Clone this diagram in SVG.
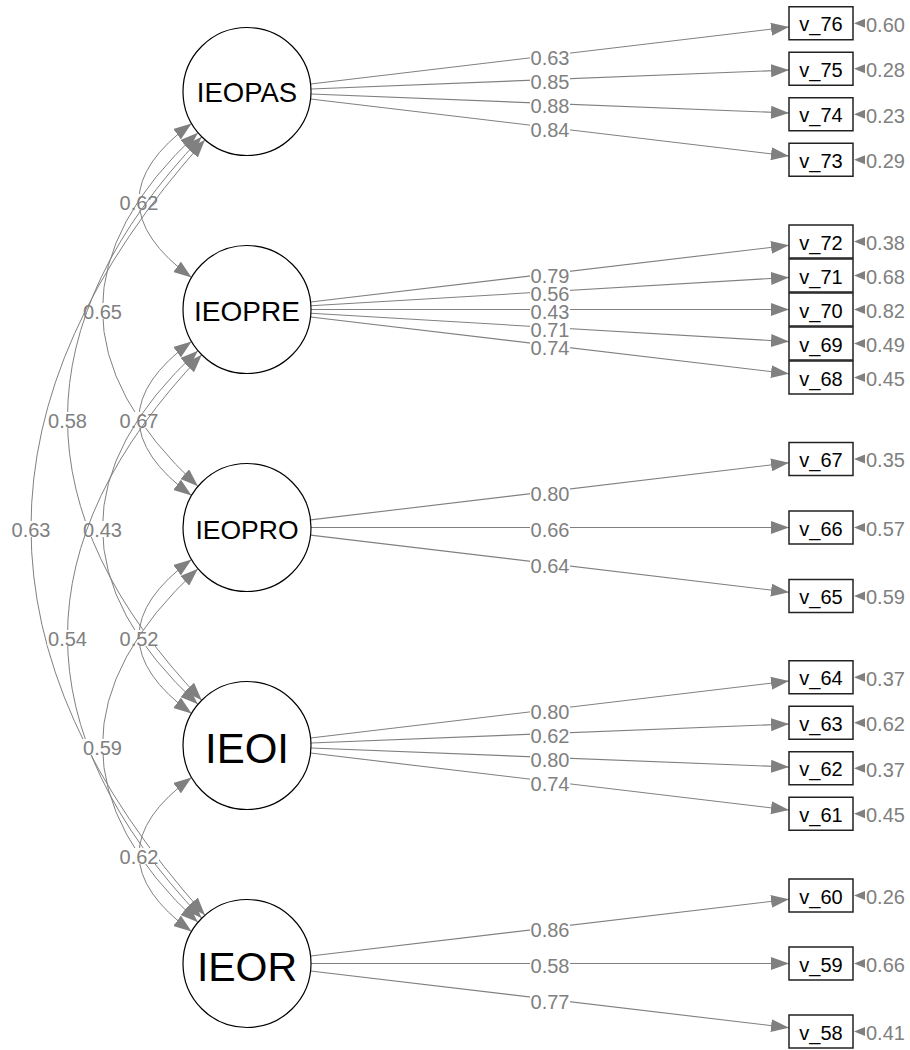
<svg xmlns="http://www.w3.org/2000/svg" width="910" height="1050" viewBox="0 0 910 1050">
<style>
.e{fill:none;stroke:#808080;stroke-width:1.1;marker-end:url(#ah)}
.c{fill:none;stroke:#808080;stroke-width:1;marker-start:url(#ah);marker-end:url(#ah)}
.bg{fill:#fff}
.lb{font-family:"Liberation Sans",Arial,sans-serif;font-size:20px;fill:#808080;text-anchor:middle}
.rl{font-family:"Liberation Sans",Arial,sans-serif;font-size:20px;fill:#808080;text-anchor:start}
.res{fill:#808080}
.lat{fill:#fff;stroke:#000;stroke-width:1.2}
.man{fill:#fff;stroke:#222;stroke-width:1.5}
.lt{font-family:"Liberation Sans",Arial,sans-serif;fill:#000;text-anchor:middle}
.mt{font-family:"Liberation Sans",Arial,sans-serif;font-size:20px;fill:#000;text-anchor:middle}
</style>
<defs>
<marker id="ah" viewBox="0 0 18 13" refX="18" refY="6.5" markerWidth="18" markerHeight="13" markerUnits="userSpaceOnUse" orient="auto-start-reverse"><path d="M0,0 L18,6.5 L0,13 Z" fill="#808080"/></marker>
</defs>
<g id="connectors">
<!-- covariances -->
<path class="c" d="M191.57,123.5 Q86.43,200.5 191.57,277.5"/>
<rect class="bg" x="119" y="194" width="40" height="16"/><text class="lb" x="139" y="209.5">0.62</text>
<path class="c" d="M197.97,132.64 Q7.03,309.5 197.97,486.36"/>
<rect class="bg" x="82.5" y="303" width="40" height="16"/><text class="lb" x="102.5" y="318.5">0.65</text>
<path class="c" d="M201.75,136.75 Q-66.75,418.5 201.75,700.25"/>
<rect class="bg" x="47.5" y="412" width="40" height="16"/><text class="lb" x="67.5" y="427.5">0.58</text>
<path class="c" d="M205.01,139.8 Q-143.01,527.5 205.01,915.2"/>
<rect class="bg" x="11" y="521" width="40" height="16"/><text class="lb" x="31" y="536.5">0.63</text>
<path class="c" d="M191.57,341.5 Q86.43,418.5 191.57,495.5"/>
<rect class="bg" x="119" y="412" width="40" height="16"/><text class="lb" x="139" y="427.5">0.67</text>
<path class="c" d="M197.97,350.64 Q7.03,527.5 197.97,704.36"/>
<rect class="bg" x="82.5" y="521" width="40" height="16"/><text class="lb" x="102.5" y="536.5">0.43</text>
<path class="c" d="M201.75,354.75 Q-66.75,636.5 201.75,918.25"/>
<rect class="bg" x="47.5" y="630" width="40" height="16"/><text class="lb" x="67.5" y="645.5">0.54</text>
<path class="c" d="M191.57,559.5 Q86.43,636.5 191.57,713.5"/>
<rect class="bg" x="119" y="630" width="40" height="16"/><text class="lb" x="139" y="645.5">0.52</text>
<path class="c" d="M197.97,568.64 Q7.03,745.5 197.97,922.36"/>
<rect class="bg" x="82.5" y="739" width="40" height="16"/><text class="lb" x="102.5" y="754.5">0.59</text>
<path class="c" d="M191.57,777.5 Q86.43,854.5 191.57,931.5"/>
<rect class="bg" x="119" y="848" width="40" height="16"/><text class="lb" x="139" y="863.5">0.62</text>
<!-- loadings IEOPAS -->
<path class="e" d="M310.55,83.94 L789,27.05"/>
<path class="e" d="M310.95,88.97 L789,70.02"/>
<path class="e" d="M310.95,94.03 L789,112.98"/>
<path class="e" d="M310.55,99.06 L789,155.95"/>
<rect class="bg" x="530" y="49" width="40" height="16"/><text class="lb" x="550" y="64.5">0.63</text>
<rect class="bg" x="530" y="73" width="40" height="16"/><text class="lb" x="550" y="88.5">0.85</text>
<rect class="bg" x="530" y="97" width="40" height="16"/><text class="lb" x="550" y="112.5">0.88</text>
<rect class="bg" x="530" y="121" width="40" height="16"/><text class="lb" x="550" y="136.5">0.84</text>
<!-- loadings IEOPRE -->
<path class="e" d="M310.55,301.97 L789,245.29"/>
<path class="e" d="M310.89,305.72 L789,277.4"/>
<path class="e" d="M311,309.5 L789,309.5"/>
<path class="e" d="M310.89,313.28 L789,341.6"/>
<path class="e" d="M310.55,317.03 L789,373.71"/>
<rect class="bg" x="530" y="267" width="40" height="16"/><text class="lb" x="550" y="282.5">0.79</text>
<rect class="bg" x="530" y="285" width="40" height="16"/><text class="lb" x="550" y="300.5">0.56</text>
<rect class="bg" x="530" y="303" width="40" height="16"/><text class="lb" x="550" y="318.5">0.43</text>
<rect class="bg" x="530" y="321" width="40" height="16"/><text class="lb" x="550" y="336.5">0.71</text>
<rect class="bg" x="530" y="339" width="40" height="16"/><text class="lb" x="550" y="354.5">0.74</text>
<!-- loadings IEOPRO -->
<path class="e" d="M310.55,519.92 L789,462.82"/>
<path class="e" d="M311,527.5 L789,527.5"/>
<path class="e" d="M310.55,535.08 L789,592.18"/>
<rect class="bg" x="530" y="485" width="40" height="16"/><text class="lb" x="550" y="500.5">0.80</text>
<rect class="bg" x="530" y="521" width="40" height="16"/><text class="lb" x="550" y="536.5">0.66</text>
<rect class="bg" x="530" y="557" width="40" height="16"/><text class="lb" x="550" y="572.5">0.64</text>
<!-- loadings IEOI -->
<path class="e" d="M310.55,737.94 L789,681.05"/>
<path class="e" d="M310.95,742.97 L789,724.02"/>
<path class="e" d="M310.95,748.03 L789,766.98"/>
<path class="e" d="M310.55,753.06 L789,809.95"/>
<rect class="bg" x="530" y="703" width="40" height="16"/><text class="lb" x="550" y="718.5">0.80</text>
<rect class="bg" x="530" y="727" width="40" height="16"/><text class="lb" x="550" y="742.5">0.62</text>
<rect class="bg" x="530" y="751" width="40" height="16"/><text class="lb" x="550" y="766.5">0.80</text>
<rect class="bg" x="530" y="775" width="40" height="16"/><text class="lb" x="550" y="790.5">0.74</text>
<!-- loadings IEOR -->
<path class="e" d="M310.55,955.97 L789,899.29"/>
<path class="e" d="M311,963.5 L789,963.5"/>
<path class="e" d="M310.55,971.03 L789,1027.71"/>
<rect class="bg" x="530" y="921" width="40" height="16"/><text class="lb" x="550" y="936.5">0.86</text>
<rect class="bg" x="530" y="957" width="40" height="16"/><text class="lb" x="550" y="972.5">0.58</text>
<rect class="bg" x="530" y="993" width="40" height="16"/><text class="lb" x="550" y="1008.5">0.77</text>
<!-- residuals -->
<polygon class="res" points="854,23.25 865,18.75 865,27.75"/><text class="rl" x="866" y="31.5">0.60</text>
<polygon class="res" points="854,68.75 865,64.25 865,73.25"/><text class="rl" x="866" y="77">0.28</text>
<polygon class="res" points="854,114.25 865,109.75 865,118.75"/><text class="rl" x="866" y="122.5">0.23</text>
<polygon class="res" points="854,159.75 865,155.25 865,164.25"/><text class="rl" x="866" y="168">0.29</text>
<polygon class="res" points="854,241.5 865,237 865,246"/><text class="rl" x="866" y="249.5">0.38</text>
<polygon class="res" points="854,275.5 865,271 865,280"/><text class="rl" x="866" y="283.5">0.68</text>
<polygon class="res" points="854,309.5 865,305 865,314"/><text class="rl" x="866" y="317.5">0.82</text>
<polygon class="res" points="854,343.5 865,339 865,348"/><text class="rl" x="866" y="351.5">0.49</text>
<polygon class="res" points="854,377.5 865,373 865,382"/><text class="rl" x="866" y="385.5">0.45</text>
<polygon class="res" points="854,459 865,454.5 865,463.5"/><text class="rl" x="866" y="467">0.35</text>
<polygon class="res" points="854,527.5 865,523 865,532"/><text class="rl" x="866" y="535.5">0.57</text>
<polygon class="res" points="854,596 865,591.5 865,600.5"/><text class="rl" x="866" y="604">0.59</text>
<polygon class="res" points="854,677.25 865,672.75 865,681.75"/><text class="rl" x="866" y="685.5">0.37</text>
<polygon class="res" points="854,722.75 865,718.25 865,727.25"/><text class="rl" x="866" y="731">0.62</text>
<polygon class="res" points="854,768.25 865,763.75 865,772.75"/><text class="rl" x="866" y="776.5">0.37</text>
<polygon class="res" points="854,813.75 865,809.25 865,818.25"/><text class="rl" x="866" y="822">0.45</text>
<polygon class="res" points="854,895.5 865,891 865,900"/><text class="rl" x="866" y="903.5">0.26</text>
<polygon class="res" points="854,963.5 865,959 865,968"/><text class="rl" x="866" y="971.5">0.66</text>
<polygon class="res" points="854,1031.5 865,1027 865,1036"/><text class="rl" x="866" y="1039.5">0.41</text>
</g>
<g id="IEOPAS"><circle class="lat" cx="247" cy="91.5" r="64"/><text class="lt" x="247" y="101.5" font-size="27.5">IEOPAS</text></g>
<g id="IEOPRE"><circle class="lat" cx="247" cy="309.5" r="64"/><text class="lt" x="247" y="321" font-size="28">IEOPRE</text></g>
<g id="IEOPRO"><circle class="lat" cx="247" cy="527.5" r="64"/><text class="lt" x="247" y="538.5" font-size="26.5">IEOPRO</text></g>
<g id="IEOI"><circle class="lat" cx="247" cy="745.5" r="64"/><text class="lt" x="247" y="763" font-size="42">IEOI</text></g>
<g id="IEOR"><circle class="lat" cx="247" cy="963.5" r="64"/><text class="lt" x="247" y="981" font-size="41">IEOR</text></g>
<g id="v_76"><rect class="man" x="789" y="6.75" width="64" height="33"/><text class="mt" x="821" y="31.25">v_76</text></g>
<g id="v_75"><rect class="man" x="789" y="52.25" width="64" height="33"/><text class="mt" x="821" y="76.75">v_75</text></g>
<g id="v_74"><rect class="man" x="789" y="97.75" width="64" height="33"/><text class="mt" x="821" y="122.25">v_74</text></g>
<g id="v_73"><rect class="man" x="789" y="143.25" width="64" height="33"/><text class="mt" x="821" y="167.75">v_73</text></g>
<g id="v_72"><rect class="man" x="789" y="225" width="64" height="33"/><text class="mt" x="821" y="249.5">v_72</text></g>
<g id="v_71"><rect class="man" x="789" y="259" width="64" height="33"/><text class="mt" x="821" y="283.5">v_71</text></g>
<g id="v_70"><rect class="man" x="789" y="293" width="64" height="33"/><text class="mt" x="821" y="317.5">v_70</text></g>
<g id="v_69"><rect class="man" x="789" y="327" width="64" height="33"/><text class="mt" x="821" y="351.5">v_69</text></g>
<g id="v_68"><rect class="man" x="789" y="361" width="64" height="33"/><text class="mt" x="821" y="385.5">v_68</text></g>
<g id="v_67"><rect class="man" x="789" y="442.5" width="64" height="33"/><text class="mt" x="821" y="467">v_67</text></g>
<g id="v_66"><rect class="man" x="789" y="511" width="64" height="33"/><text class="mt" x="821" y="535.5">v_66</text></g>
<g id="v_65"><rect class="man" x="789" y="579.5" width="64" height="33"/><text class="mt" x="821" y="604">v_65</text></g>
<g id="v_64"><rect class="man" x="789" y="660.75" width="64" height="33"/><text class="mt" x="821" y="685.25">v_64</text></g>
<g id="v_63"><rect class="man" x="789" y="706.25" width="64" height="33"/><text class="mt" x="821" y="730.75">v_63</text></g>
<g id="v_62"><rect class="man" x="789" y="751.75" width="64" height="33"/><text class="mt" x="821" y="776.25">v_62</text></g>
<g id="v_61"><rect class="man" x="789" y="797.25" width="64" height="33"/><text class="mt" x="821" y="821.75">v_61</text></g>
<g id="v_60"><rect class="man" x="789" y="879" width="64" height="33"/><text class="mt" x="821" y="903.5">v_60</text></g>
<g id="v_59"><rect class="man" x="789" y="947" width="64" height="33"/><text class="mt" x="821" y="971.5">v_59</text></g>
<g id="v_58"><rect class="man" x="789" y="1015" width="64" height="33"/><text class="mt" x="821" y="1039.5">v_58</text></g>
</svg>
